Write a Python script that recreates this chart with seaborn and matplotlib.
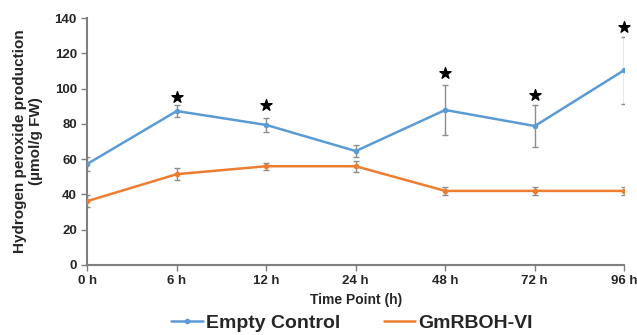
import matplotlib.pyplot as plt
import seaborn as sns
import pandas as pd
from matplotlib.lines import Line2D

# data
time_labels = ['0 h', '6 h', '12 h', '24 h', '48 h', '72 h', '96 h']
control = [57.3, 87.3, 79.4, 64.6, 87.9, 78.8, 110.5]
control_err = [4, 3.5, 4, 3.5, 14, 12, 19]
rboh = [36.2, 51.5, 56, 56, 42, 42, 42]
rboh_err = [3.5, 3.5, 2, 3, 2.5, 2.5, 2.5]
star_idx = [1, 2, 4, 5, 6]
star_y = [95, 90.7, 109, 96.5, 135]

blue = '#5B9BD5'
orange = '#ED7D31'

df = pd.DataFrame({
    'pos': list(range(len(time_labels))) * 2,
    'value': control + rboh,
    'series': ['Empty Control'] * 7 + ['GmRBOH-VI'] * 7,
})

sns.set_style('white')
plt.rcParams['font.family'] = ['Liberation Sans', 'DejaVu Sans']

fig = plt.figure(figsize=(6.37, 3.35), dpi=100)
ax = fig.add_axes([0.137, 0.209, 0.843, 0.737])

sns.lineplot(data=df, x='pos', y='value', hue='series',
             palette={'Empty Control': blue, 'GmRBOH-VI': orange},
             marker='o', markersize=4, markeredgewidth=0, linewidth=1.8,
             legend=False, ax=ax, zorder=3)

x = list(range(len(time_labels)))
ax.errorbar(x, control, yerr=control_err, fmt='none', ecolor='#8c8c8c',
            elinewidth=1, capsize=2, zorder=2)
ax.errorbar(x, rboh, yerr=rboh_err, fmt='none', ecolor='#8c8c8c',
            elinewidth=1, capsize=2, zorder=2)
ax.scatter(star_idx, star_y, marker='*', s=70, color='black', zorder=4,
           clip_on=False)

ax.set_xlim(0, 6)
ax.set_ylim(0, 140)
ax.set_yticks(range(0, 141, 20))
ax.set_xticks(x)
ax.set_xticklabels(time_labels)
ax.tick_params(axis='both', labelsize=9.5, length=4, width=1, color='#7f7f7f',
               direction='out', left=True, bottom=True)
for lab in ax.get_xticklabels() + ax.get_yticklabels():
    lab.set_fontweight('bold')

for s in ['top', 'right']:
    ax.spines[s].set_visible(False)
for s in ['left', 'bottom']:
    ax.spines[s].set_color('#7f7f7f')
    ax.spines[s].set_linewidth(1.5)

ax.set_xlabel('Time Point (h)', fontsize=10, fontweight='bold', labelpad=4)
ax.set_ylabel('Hydrogen peroxide production\n(µmol/g FW)', fontsize=11,
              fontweight='bold', labelpad=8)

handles = [
    Line2D([], [], color=blue, marker='o', markersize=3, linewidth=1.8),
    Line2D([], [], color=orange, linewidth=1.8),
]
leg = fig.legend(handles, ['Empty Control', 'GmRBOH-VI'], loc='center',
                 bbox_to_anchor=(0.553, 0.035), ncol=2, frameon=False,
                 handlelength=1.6, handletextpad=0.2,
                 columnspacing=2.2, prop={'weight': 'bold', 'size': 14})

fig.savefig('out.png', dpi=100)
